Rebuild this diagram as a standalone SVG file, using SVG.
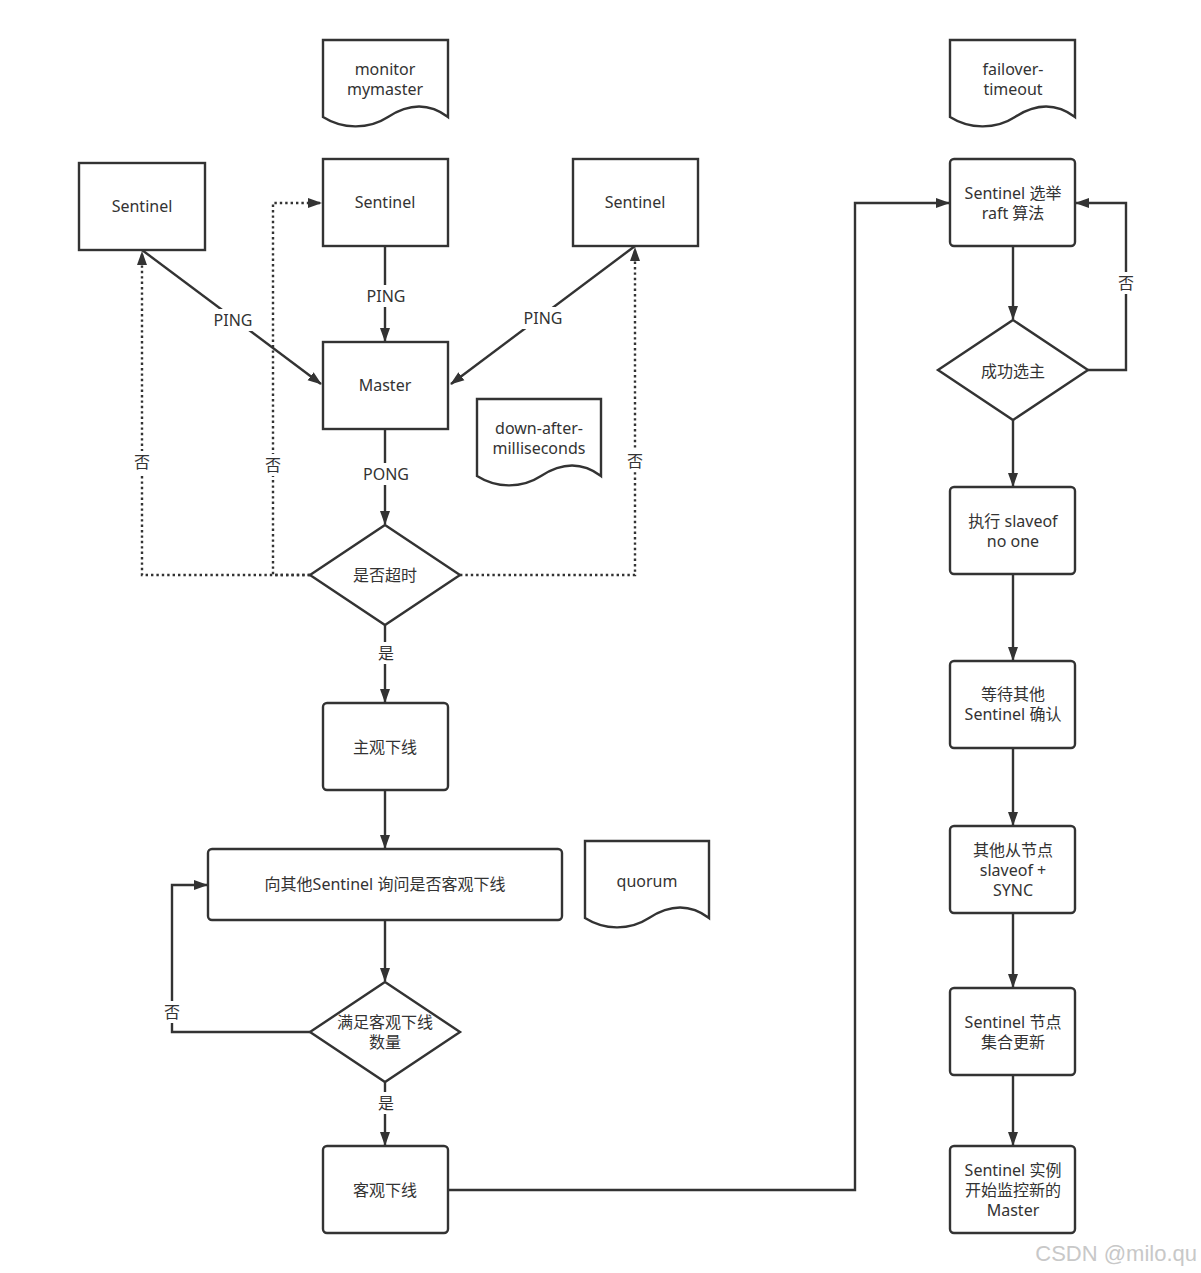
<svg xmlns="http://www.w3.org/2000/svg" width="1201" height="1273" viewBox="0 0 1201 1273">
<defs>
<marker id="ah" markerWidth="14" markerHeight="12" viewBox="0 0 14 12" refX="13" refY="6" orient="auto" markerUnits="userSpaceOnUse">
<path d="M0,1 L14,6 L0,11 Z" fill="#333"/>
</marker>
</defs>
<style>
.box{fill:#fff;stroke:#333;stroke-width:2.4}
.doc{fill:#fff;stroke:#333;stroke-width:2.4}
.t{font-family:"Noto Sans","Noto Sans CJK SC",sans-serif;font-size:16px;fill:#333;text-anchor:middle}
.c{fill:none;stroke:#333;stroke-width:2.4}
.arr{marker-end:url(#ah)}
.dot{stroke-dasharray:2.4 3}
.lbl{fill:#fff}
</style>
<rect width="1201" height="1273" fill="#fff"/>

<g id="connectors">
<line class="c arr" x1="142" y1="250" x2="321" y2="384"/>
<line class="c arr" x1="385" y1="246" x2="385" y2="341"/>
<line class="c arr" x1="635" y1="246" x2="451" y2="384"/>
<line class="c arr" x1="385" y1="429" x2="385" y2="524"/>
<polyline class="c arr dot" points="310,575 142,575 142,252"/>
<polyline class="c arr dot" points="310,575 273,575 273,203 321,203"/>
<polyline class="c arr dot" points="460,575 635,575 635,248"/>
<line class="c arr" x1="385" y1="625" x2="385" y2="702"/>
<line class="c arr" x1="385" y1="790" x2="385" y2="848"/>
<line class="c arr" x1="385" y1="920" x2="385" y2="981"/>
<polyline class="c arr" points="310,1032 172,1032 172,885 207,885"/>
<line class="c arr" x1="385" y1="1082" x2="385" y2="1145"/>
<polyline class="c arr" points="448,1190 855,1190 855,203 949,203"/>
<line class="c arr" x1="1013" y1="246" x2="1013" y2="319"/>
<polyline class="c arr" points="1088,370 1126,370 1126,203 1076,203"/>
<line class="c arr" x1="1013" y1="420" x2="1013" y2="486"/>
<line class="c arr" x1="1013" y1="574" x2="1013" y2="660"/>
<line class="c arr" x1="1013" y1="748" x2="1013" y2="825"/>
<line class="c arr" x1="1013" y1="913" x2="1013" y2="987"/>
<line class="c arr" x1="1013" y1="1075" x2="1013" y2="1145"/>
<!-- labels -->
<rect class="lbl" x="208" y="309" width="50" height="22"/>
<text class="t" x="233" y="326">PING</text>
<rect class="lbl" x="362" y="285" width="48" height="22"/>
<text class="t" x="386" y="302">PING</text>
<rect class="lbl" x="518" y="307" width="50" height="22"/>
<text class="t" x="543" y="324">PING</text>
<rect class="lbl" x="358" y="463" width="56" height="22"/>
<text class="t" x="386" y="480">PONG</text>
<rect class="lbl" x="132" y="451" width="20" height="22"/>
<text class="t" x="142" y="468">否</text>
<rect class="lbl" x="263" y="454" width="20" height="22"/>
<text class="t" x="273" y="471">否</text>
<rect class="lbl" x="625" y="450" width="20" height="22"/>
<text class="t" x="635" y="467">否</text>
<rect class="lbl" x="375" y="642" width="22" height="22"/>
<text class="t" x="386" y="659">是</text>
<rect class="lbl" x="162" y="1001" width="20" height="22"/>
<text class="t" x="172" y="1018">否</text>
<rect class="lbl" x="375" y="1092" width="22" height="22"/>
<text class="t" x="386" y="1109">是</text>
<rect class="lbl" x="1116" y="272" width="20" height="22"/>
<text class="t" x="1126" y="289">否</text>
</g>

<g id="doc-monitor">
<path class="doc" d="M323,40 H448 V117 C428,102 408,104 388,117 C368,130 342,129 323,117 Z"/>
<text class="t" x="385" y="75">monitor</text>
<text class="t" x="385" y="95">mymaster</text>
</g>
<g id="sentinel-left">
<rect class="box" x="79" y="163" width="126" height="87"/>
<text class="t" x="142" y="212">Sentinel</text>
</g>
<g id="sentinel-mid">
<rect class="box" x="323" y="159" width="125" height="87"/>
<text class="t" x="385" y="208">Sentinel</text>
</g>
<g id="sentinel-right">
<rect class="box" x="573" y="159" width="125" height="87"/>
<text class="t" x="635" y="208">Sentinel</text>
</g>
<g id="master">
<rect class="box" x="323" y="342" width="125" height="87"/>
<text class="t" x="385" y="391">Master</text>
</g>
<g id="doc-down">
<path class="doc" d="M477,399 H601 V476 C581,461 561,463 541,476 C521,489 496,488 477,476 Z"/>
<text class="t" x="539" y="434">down-after-</text>
<text class="t" x="539" y="454">milliseconds</text>
</g>
<g id="d-timeout">
<polygon class="box" points="385,525 460,575 385,625 310,575"/>
<text class="t" x="385" y="581">是否超时</text>
</g>
<g id="subjective-down">
<rect class="box" x="323" y="703" width="125" height="87" rx="4"/>
<text class="t" x="385" y="753">主观下线</text>
</g>
<g id="ask-others">
<rect class="box" x="208" y="849" width="354" height="71" rx="4"/>
<text class="t" x="385" y="890">向其他Sentinel 询问是否客观下线</text>
</g>
<g id="doc-quorum">
<path class="doc" d="M585,841 H709 V918 C689,903 669,905 649,918 C629,931 604,930 585,918 Z"/>
<text class="t" x="647" y="887">quorum</text>
</g>
<g id="d-quorum">
<polygon class="box" points="385,982 460,1032 385,1082 310,1032"/>
<text class="t" x="385" y="1028">满足客观下线</text>
<text class="t" x="385" y="1048">数量</text>
</g>
<g id="objective-down">
<rect class="box" x="323" y="1146" width="125" height="87" rx="4"/>
<text class="t" x="385" y="1196">客观下线</text>
</g>
<g id="doc-failover">
<path class="doc" d="M950,40 H1075 V117 C1055,102 1035,104 1015,117 C995,130 969,129 950,117 Z"/>
<text class="t" x="1013" y="75">failover-</text>
<text class="t" x="1013" y="95">timeout</text>
</g>
<g id="election">
<rect class="box" x="950" y="159" width="125" height="87" rx="4"/>
<text class="t" x="1013" y="199">Sentinel 选举</text>
<text class="t" x="1013" y="219">raft 算法</text>
</g>
<g id="d-elected">
<polygon class="box" points="1013,320 1088,370 1013,420 938,370"/>
<text class="t" x="1013" y="377">成功选主</text>
</g>
<g id="slaveof-no-one">
<rect class="box" x="950" y="487" width="125" height="87" rx="4"/>
<text class="t" x="1013" y="527">执行 slaveof</text>
<text class="t" x="1013" y="547">no one</text>
</g>
<g id="wait-confirm">
<rect class="box" x="950" y="661" width="125" height="87" rx="4"/>
<text class="t" x="1013" y="700">等待其他</text>
<text class="t" x="1013" y="720">Sentinel 确认</text>
</g>
<g id="others-sync">
<rect class="box" x="950" y="826" width="125" height="87" rx="4"/>
<text class="t" x="1013" y="856">其他从节点</text>
<text class="t" x="1013" y="876">slaveof +</text>
<text class="t" x="1013" y="896">SYNC</text>
</g>
<g id="set-update">
<rect class="box" x="950" y="988" width="125" height="87" rx="4"/>
<text class="t" x="1013" y="1028">Sentinel 节点</text>
<text class="t" x="1013" y="1048">集合更新</text>
</g>
<g id="monitor-new">
<rect class="box" x="950" y="1146" width="125" height="87" rx="4"/>
<text class="t" x="1013" y="1176">Sentinel 实例</text>
<text class="t" x="1013" y="1196">开始监控新的</text>
<text class="t" x="1013" y="1216">Master</text>
</g>
<text x="1197" y="1261" font-family="Liberation Sans, Arial, sans-serif" font-size="22" fill="#c8c8c8" text-anchor="end">CSDN @milo.qu</text>
</svg>
